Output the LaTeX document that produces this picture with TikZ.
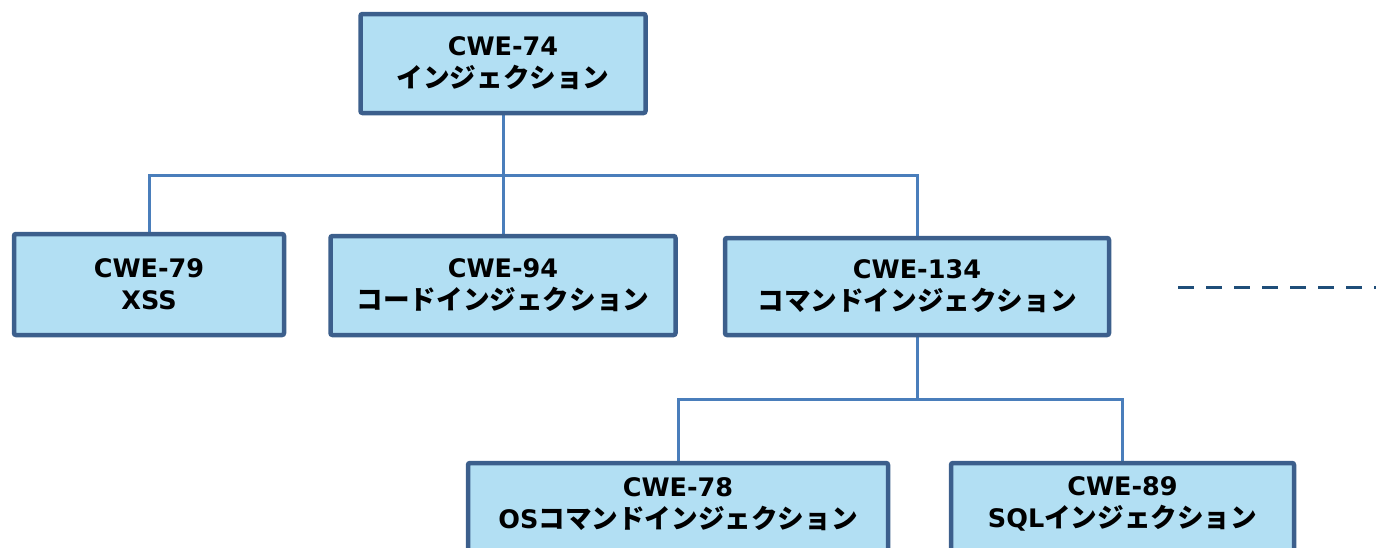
\documentclass[tikz,border=0pt]{standalone}
\usepackage{fontspec}
\setmainfont{DejaVu Sans}
\newfontfamily\jpfont{Noto Sans CJK JP}
\usetikzlibrary{backgrounds}
\definecolor{boxfill}{HTML}{B2DFF3}
\definecolor{boxborder}{HTML}{3C5F8C}
\definecolor{connc}{HTML}{4A7EBB}
\definecolor{dashc}{HTML}{1F4E79}
\newcommand{\jp}[1]{{\jpfont\bfseries\fontsize{26.6}{32}\selectfont #1}}
\tikzset{
  cwebox/.style={draw=boxborder, fill=boxfill, line width=4.5pt, rounded corners=2pt,
    inner sep=0pt, align=center, font=\bfseries\fontsize{25.5}{32}\selectfont},
  txt/.style={inner sep=0pt, align=center, font=\bfseries\fontsize{25.5}{32}\selectfont},
  conn/.style={draw=connc, line width=3pt},
  dashline/.style={draw=dashc, line width=3pt, dash pattern=on 16pt off 12pt}
}
\begin{document}
\begin{tikzpicture}[x=1pt,y=-1pt]
\useasboundingbox (0,0) rectangle (1376,547);
\clip (0,0) rectangle (1376,547);
\node[cwebox, minimum width=285pt, minimum height=99pt] (c74) at (503,63.5) {CWE-74\\\jp{インジェクション}};
\node[cwebox, minimum width=270pt, minimum height=101pt] (c79) at (149,284.5) {CWE-79\\XSS};
\node[cwebox, minimum width=345pt, minimum height=99pt] (c94) at (503,285.5) {CWE-94\\\jp{コードインジェクション}};
\node[cwebox, minimum width=384pt, minimum height=97pt] (c134) at (917,286.5) {CWE-134\\\jp{コマンドインジェクション}};
\node[cwebox, minimum width=420pt, minimum height=96pt] (b78) at (678,511) {};
\node[txt] (c78) at (678,504) {CWE-78\\OS\jp{コマンドインジェクション}};
\node[cwebox, minimum width=343pt, minimum height=96pt] (b89) at (1122.5,511) {};
\node[txt] (c89) at (1122.5,504) {CWE-89\\SQL\jp{インジェクション}};
\coordinate (j1) at (503,175);
\coordinate (j2) at (917,399);
\coordinate (d1) at (1178,287);
\coordinate (d2) at (1376,287);
\begin{scope}[on background layer]
\draw[conn] (c74.south) -- (j1);
\draw[conn] (c79.north) |- (j1) -| (c134.north);
\draw[conn] (j1) -- (c94.north);
\draw[conn] (c134.south) -- (j2);
\draw[conn] (b78.north) |- (j2) -| (b89.north);
\end{scope}
\draw[dashline] (d1) -- (d2);
\end{tikzpicture}
\end{document}
